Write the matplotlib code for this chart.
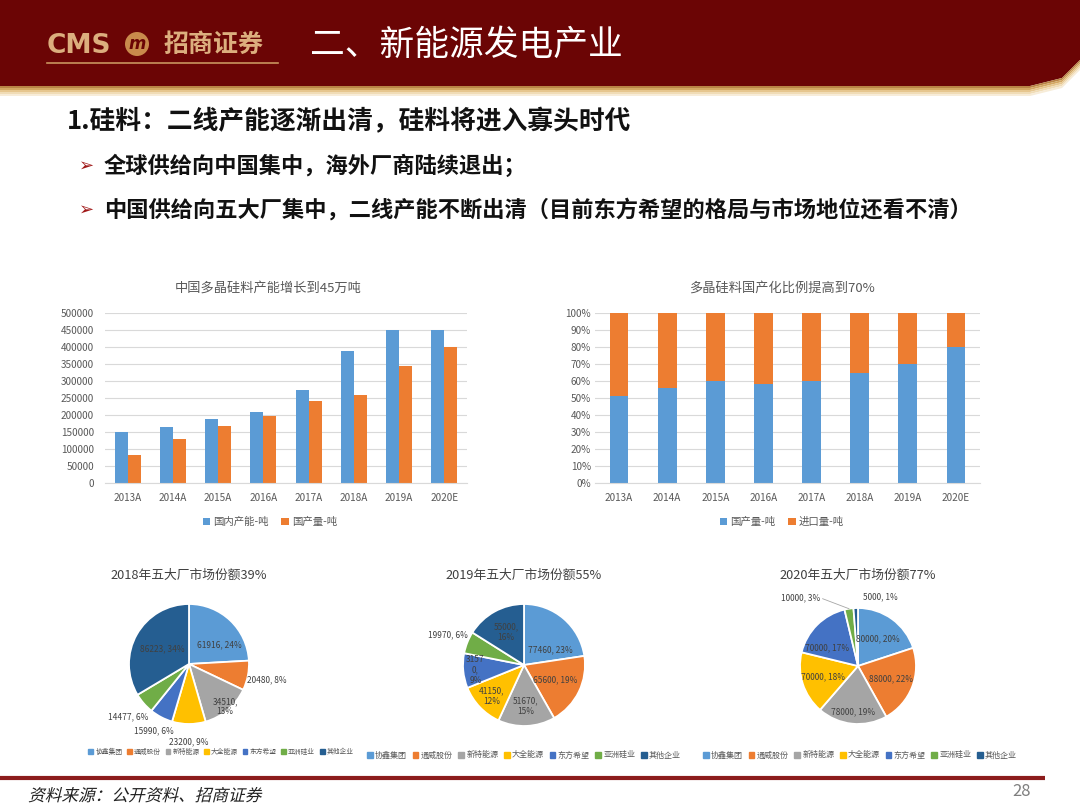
import matplotlib
matplotlib.use('Agg')
import matplotlib.pyplot as plt
import numpy as np
from matplotlib.patches import Rectangle, Polygon, Patch, Circle, PathPatch
from matplotlib.ticker import FuncFormatter, MultipleLocator
from matplotlib.textpath import TextPath
from matplotlib.font_manager import FontProperties
from matplotlib.transforms import Affine2D

plt.rcParams['font.family'] = ['Noto Sans CJK SC', 'DejaVu Sans']

# ---------------- data ----------------
years = ['2013A', '2014A', '2015A', '2016A', '2017A', '2018A', '2019A', '2020E']
capacity = [150000, 165000, 187000, 210000, 275000, 387000, 451000, 450000]   # 国内产能-吨
output = [82000, 130000, 168000, 196000, 240000, 258000, 343000, 400000]      # 国产量-吨
domestic_share = [51, 56, 60, 58, 60, 65, 70, 80]                             # 国产量 %
import_share = [49, 44, 40, 42, 40, 35, 30, 20]                               # 进口量 %

companies = ['协鑫集团', '通威股份', '新特能源', '大全能源', '东方希望', '亚洲硅业', '其他企业']
share_2018 = [61916, 20480, 34510, 23200, 15990, 14477, 86223]
pct_2018 = [24, 8, 13, 9, 6, 6, 34]
share_2019 = [77460, 65600, 51670, 41150, 31570, 19970, 55000]
pct_2019 = [23, 19, 15, 12, 9, 6, 16]
share_2020 = [80000, 88000, 78000, 70000, 70000, 10000, 5000]
pct_2020 = [20, 22, 19, 18, 17, 3, 1]

W, H = 1080, 810
BLUE, ORANGE = '#5b9bd5', '#ed7d31'
pie_colors = ['#5b9bd5', '#ed7d31', '#a5a5a5', '#ffc000', '#4472c4', '#70ad47', '#255e91']
TXT = '#595959'

fig = plt.figure(figsize=(W / 100, H / 100), dpi=100)
fig.patch.set_facecolor('white')

# background canvas in pixel coordinates
bg = fig.add_axes([0, 0, 1, 1])
bg.set_xlim(0, W)
bg.set_ylim(H, 0)
bg.axis('off')

# header band
bg.add_patch(Polygon([(0, 0), (W, 0), (W, 60), (1062, 78), (1030, 86), (0, 86)],
                     closed=True, color='#6b0505', lw=0))
strip_cols = ['#b98445', '#d3a762', '#e6c68e', '#f0dcb6', '#f7ecd8']
for k, c in enumerate(strip_cols):
    o = 86 + k * 2
    bg.add_patch(Polygon([(0, o), (1030, o), (1062, o - 8), (W, o - 26),
                          (W, o - 24), (1062, o - 6), (1030, o + 2), (0, o + 2)],
                         closed=True, color=c, lw=0))

# logo
bg.text(47, 46, 'CMS', fontsize=19, color='#dcae7e', va='center', ha='left',
        family='DejaVu Sans', fontweight='bold')
bg.add_patch(Circle((137, 44), 12, color='#c98a4c', lw=0))
bg.text(137, 44, 'm', fontsize=12, color='#6b0505', ha='center', va='center',
        fontweight='bold', family='DejaVu Sans', style='italic')
bg.text(164, 45, '招商证券', fontsize=18, color='#dcae7e', va='center', ha='left',
        fontweight='bold')
bg.plot([47, 278], [63, 63], color='#c9955e', lw=1.2)
bg.text(310, 45, '二、新能源发电产业', fontsize=25, color='white', va='center', ha='left')

# subtitle and bullets
bg.text(67, 122, '1.硅料：二线产能逐渐出清，硅料将进入寡头时代', fontsize=18.5,
        fontweight='bold', color='#111111', va='center', ha='left')
for yy, t in [(166, '全球供给向中国集中，海外厂商陆续退出；'),
              (210, '中国供给向五大厂集中，二线产能不断出清（目前东方希望的格局与市场地位还看不清）')]:
    bg.text(79, yy, '➢', fontsize=13, color='#a01818', va='center', ha='left',
            family='DejaVu Sans')
    bg.text(104, yy, t, fontsize=16, fontweight='bold', color='#111111',
            va='center', ha='left')

# footer
bg.plot([0, 1045], [778, 778], color='#8c1c1c', lw=3, solid_capstyle='butt')
try:
    tp = TextPath((0, 0), '资料来源：公开资料、招商证券',
                  prop=FontProperties(family='Noto Sans CJK SC', size=12))
    k = 100 / 72
    tr = Affine2D().skew_deg(14, 0).scale(k, -k).translate(28, 801)
    bg.add_patch(PathPatch(tr.transform_path(tp), color='#222222', lw=0))
except Exception:
    bg.text(28, 795, '资料来源：公开资料、招商证券', fontsize=12, color='#222222',
            va='center', ha='left')
bg.text(1022, 791, '28', fontsize=12, color='#7f7f7f', va='center', ha='center')


def fax(l, t, r, b):
    ax = fig.add_axes([l / W, 1 - b / H, (r - l) / W, (b - t) / H])
    ax.patch.set_visible(False)
    return ax


def style_bar_axes(ax, ypad):
    for s in ['top', 'right', 'left']:
        ax.spines[s].set_visible(False)
    ax.spines['bottom'].set_color('#d9d9d9')
    ax.grid(axis='y', color='#d9d9d9', lw=0.8)
    ax.set_axisbelow(True)
    ax.tick_params(axis='both', length=0, labelsize=7.2, colors=TXT)
    ax.tick_params(axis='y', pad=ypad)
    ax.tick_params(axis='x', pad=7)


x = np.arange(len(years))

# ---------------- chart 1 ----------------
ax1 = fax(105, 313, 467, 483)
ax1.bar(x - 0.145, capacity, 0.29, color=BLUE, label='国内产能-吨')
ax1.bar(x + 0.145, output, 0.29, color=ORANGE, label='国产量-吨')
ax1.set_xlim(-0.5, len(years) - 0.5)
ax1.set_ylim(0, 500000)
ax1.yaxis.set_major_locator(MultipleLocator(50000))
ax1.yaxis.set_major_formatter(FuncFormatter(lambda v, p: f'{int(v)}'))
ax1.set_xticks(x)
ax1.set_xticklabels(years)
style_bar_axes(ax1, 8)
bg.text(268, 288, '中国多晶硅料产能增长到45万吨', fontsize=9.5, color=TXT,
        ha='center', va='center')
h1, l1 = ax1.get_legend_handles_labels()
fig.legend(h1, l1, loc='center', bbox_to_anchor=(270 / W, 1 - 522 / H), ncol=2,
           frameon=False, fontsize=7.5, labelcolor=TXT, handlelength=0.7,
           handleheight=0.7, handletextpad=0.3, columnspacing=1.2)

# ---------------- chart 2 ----------------
ax2 = fax(595, 313, 980, 483)
ax2.bar(x, domestic_share, 0.39, color=BLUE, label='国产量-吨')
ax2.bar(x, import_share, 0.39, bottom=domestic_share, color=ORANGE, label='进口量-吨')
ax2.set_xlim(-0.5, len(years) - 0.5)
ax2.set_ylim(0, 100)
ax2.yaxis.set_major_locator(MultipleLocator(10))
ax2.yaxis.set_major_formatter(FuncFormatter(lambda v, p: f'{int(v)}%'))
ax2.set_xticks(x)
ax2.set_xticklabels(years)
style_bar_axes(ax2, 3)
bg.text(782, 288, '多晶硅料国产化比例提高到70%', fontsize=9.5, color=TXT,
        ha='center', va='center')
h2, l2 = ax2.get_legend_handles_labels()
fig.legend(h2, l2, loc='center', bbox_to_anchor=(782 / W, 1 - 522 / H), ncol=2,
           frameon=False, fontsize=7.5, labelcolor=TXT, handlelength=0.7,
           handleheight=0.7, handletextpad=0.3, columnspacing=1.2)


# ---------------- pies ----------------
def draw_pie(cx, cy, R, values, pcts, lab_r, lab_da, wraps, title, leg_cx, leg_y,
             leg_fs, leader=None):
    ax = fax(cx - 110, cy - 110, cx + 110, cy + 110)
    wedges, _ = ax.pie(values, colors=pie_colors, startangle=90, counterclock=False,
                       radius=1, wedgeprops=dict(edgecolor='white', linewidth=1.3))
    s = 110 / R
    ax.set_xlim(-s, s)
    ax.set_ylim(-s, s)
    ax.set_aspect('equal')
    ax.axis('off')
    for i, w in enumerate(wedges):
        mid = np.deg2rad((w.theta1 + w.theta2) / 2 - lab_da[i])
        px, py = lab_r[i] * np.cos(mid), lab_r[i] * np.sin(mid)
        v = str(values[i])
        if wraps[i] == 1:
            lab = f'{v},\n{pcts[i]}%'
        elif wraps[i] == 2:
            lab = f'{v[:-1]}\n{v[-1]},\n{pcts[i]}%'
        else:
            lab = f'{v}, {pcts[i]}%'
        ax.text(px, py, lab, fontsize=6, color='#404040', ha='center', va='center',
                linespacing=1.2)
        if leader is not None and i == leader[0]:
            tx, ty = leader[1]
            wm = np.deg2rad((w.theta1 + w.theta2) / 2)
            ax.plot([px + tx, np.cos(wm) * 1.0], [py + ty, np.sin(wm) * 1.0],
                    color='#a6a6a6', lw=0.6)
    bg.text(cx, 575, title, fontsize=9.2, color='#404040', ha='center', va='center')
    handles = [Patch(color=c) for c in pie_colors]
    fig.legend(handles, companies, loc='center', bbox_to_anchor=(leg_cx / W, 1 - leg_y / H),
               ncol=7, frameon=False, fontsize=leg_fs, labelcolor=TXT, handlelength=0.7,
               handleheight=0.7, handletextpad=0.3, columnspacing=0.7)


draw_pie(189, 664, 60, share_2018, pct_2018,
         [0.6, 1.33, 0.93, 1.3, 1.26, 1.35, 0.52],
         [15, 0, 0, 0, 0, 0, 0],
         [0, 0, 1, 0, 0, 0, 0],
         '2018年五大厂市场份额39%', 221, 752, 4.9)

draw_pie(524, 665, 61, share_2019, pct_2019,
         [0.5, 0.57, 0.67, 0.74, 0.8, 1.35, 0.61],
         [20, 0, 0, 0, 0, 0, 0],
         [0, 0, 1, 1, 2, 0, 1],
         '2019年五大厂市场份额55%', 524, 755, 5.8)

draw_pie(858, 666, 58, share_2020, pct_2020,
         [0.57, 0.62, 0.8, 0.63, 0.62, 1.54, 1.26],
         [0, 0, 0, 0, -15, -31, 20],
         [0, 0, 0, 0, 0, 0, 0],
         '2020年五大厂市场份额77%', 860, 755, 5.8, leader=(5, (0.38, -0.02)))

fig.savefig('out.png', dpi=100, facecolor='white')
